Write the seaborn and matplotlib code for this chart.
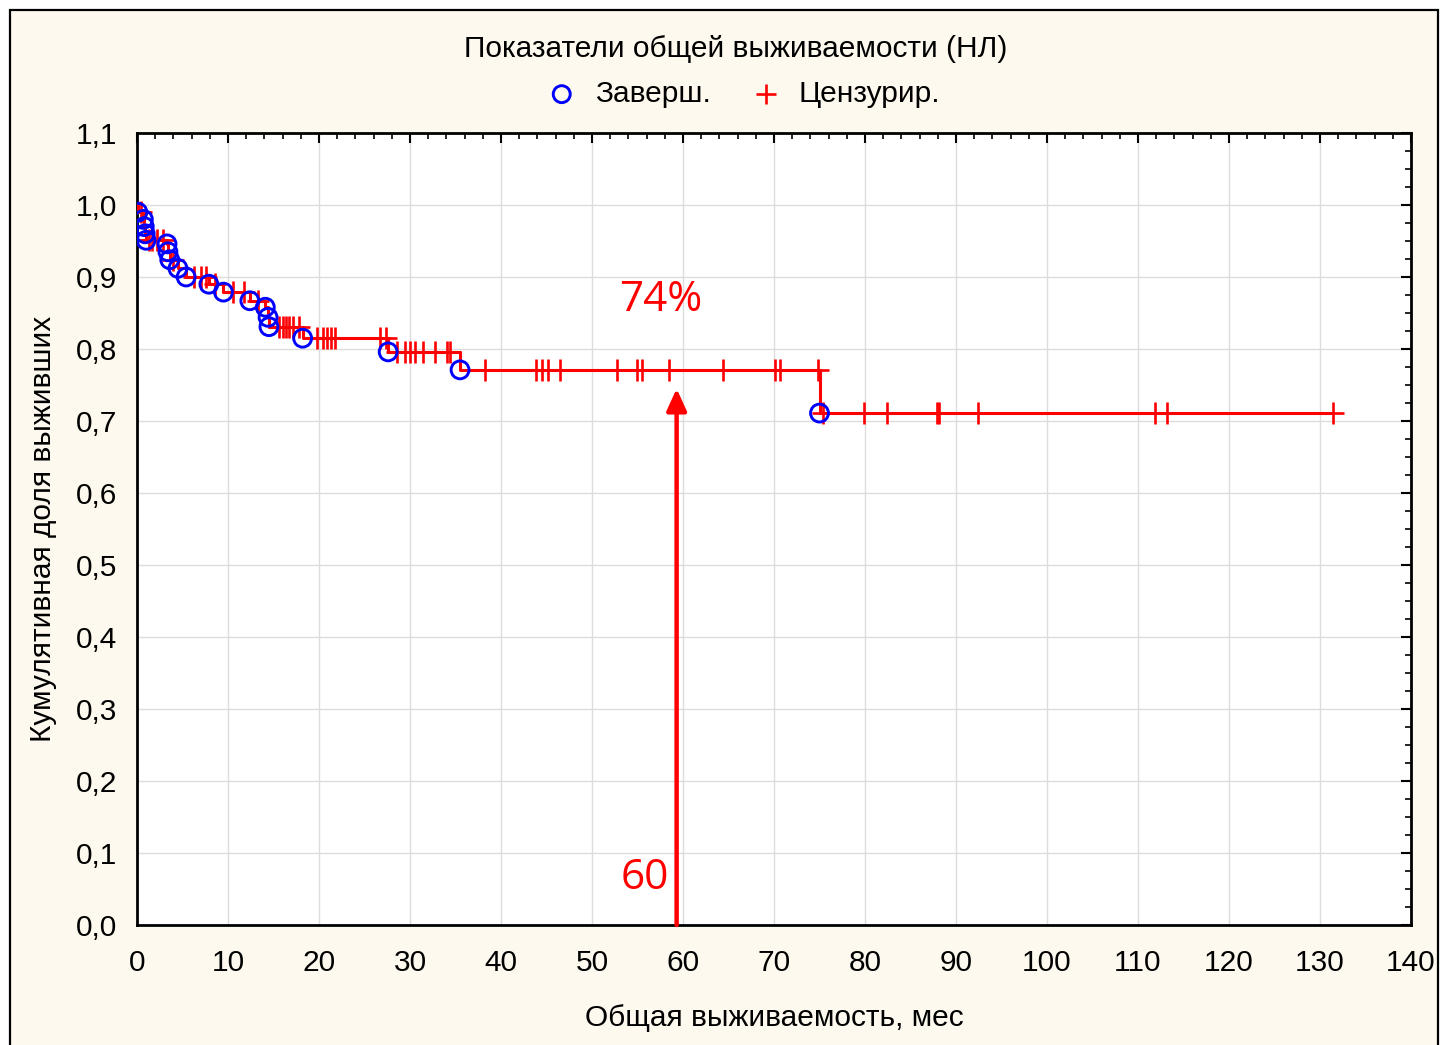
import numpy as np
import pandas as pd
import matplotlib
matplotlib.use("Agg")
import matplotlib.pyplot as plt
import seaborn as sns
from matplotlib.patches import Rectangle
from matplotlib.ticker import MultipleLocator

# Kaplan-Meier data: event times (months) and survival after each event
event_times = [0.1, 0.7, 0.8, 0.9, 1.0, 3.3, 3.4, 3.6, 4.5, 5.4, 7.9, 9.5,
               12.4, 14.1, 14.4, 14.5, 18.2, 27.6, 35.5, 75.0]
event_surv = [0.990, 0.980, 0.970, 0.960, 0.951, 0.946, 0.935, 0.924, 0.912,
              0.900, 0.890, 0.879, 0.867, 0.858, 0.844, 0.831, 0.815, 0.796,
              0.771, 0.711]

# Censored observation times (months)
censor_times = [0.4, 1.3, 1.7, 2.2, 2.9, 4.0, 6.3, 7.0, 7.6, 8.6, 10.5, 11.8,
                13.3, 15.6, 16.0, 16.4, 16.7, 17.1, 17.8, 19.8, 20.4, 20.9,
                21.3, 21.8, 26.7, 27.4, 28.6, 29.5, 30.0, 30.5, 31.4, 32.7,
                34.1, 34.4, 38.2, 43.9, 44.5, 45.2, 46.5, 52.7, 54.9, 55.5,
                58.5, 64.4, 70.1, 70.7, 74.8, 75.4, 79.9, 82.4, 87.9, 88.1,
                92.4, 111.9, 113.2, 131.4]

x_ticks = [0, 10, 20, 30, 40, 50, 60, 70, 80, 90, 100, 110, 120, 130, 140]
y_ticks = [0.0, 0.1, 0.2, 0.3, 0.4, 0.5, 0.6, 0.7, 0.8, 0.9, 1.0, 1.1]
y_tick_labels = ["0,0", "0,1", "0,2", "0,3", "0,4", "0,5", "0,6", "0,7",
                 "0,8", "0,9", "1,0", "1,1"]

title = "Показатели общей выживаемости (НЛ)"
x_label = "Общая выживаемость, мес"
y_label = "Кумулятивная доля выживших"
legend_labels = ["Заверш.", "Цензурир."]
marked_time = 60
marked_surv = 0.745
marked_text = "74%"


def surv_at(t):
    s = 1.0
    for et, es in zip(event_times, event_surv):
        if et <= t:
            s = es
    return s


steps = pd.DataFrame({
    "t": [0.0] + event_times + [censor_times[-1]],
    "s": [1.0] + event_surv + [event_surv[-1]],
})
events = pd.DataFrame({"t": event_times, "s": event_surv})
censored = pd.DataFrame({"t": censor_times,
                         "s": [surv_at(t) for t in censor_times]})

sns.set_theme(style="white")
plt.rcParams["font.family"] = ["Liberation Sans", "DejaVu Sans"]
plt.rcParams["text.color"] = "black"
plt.rcParams["axes.labelcolor"] = "black"

FS = 21.5

fig = plt.figure(figsize=(14.41, 10.45), dpi=100)
fig.patch.set_facecolor("white")
fig.add_artist(Rectangle((10 / 1441, -0.01), (1438 - 10) / 1441, 1 - 10 / 1045 + 0.01,
                         transform=fig.transFigure, facecolor="#fdf9ee",
                         edgecolor="black", linewidth=1.6, zorder=-10))

ax = fig.add_axes([137 / 1441, 1 - 925 / 1045, (1411 - 137) / 1441, (925 - 133) / 1045])
ax.set_facecolor("white")

red = "#ff0000"
blue = "#0000ff"

sns.lineplot(data=steps, x="t", y="s", drawstyle="steps-post", color=red,
             linewidth=2.2, sort=False, estimator=None, ax=ax, zorder=3)
sns.scatterplot(data=censored, x="t", y="s", marker="+", s=240, color=red,
                linewidth=1.9, ax=ax, zorder=4, label=legend_labels[1])
sns.scatterplot(data=events, x="t", y="s", marker="o", s=165,
                facecolor="none", edgecolor=blue, linewidth=2.1, ax=ax,
                zorder=5, label=legend_labels[0])

# Arrow marking the 60-month survival
ax.annotate("", xy=(marked_time - 0.7, marked_surv), xytext=(marked_time - 0.7, 0.0),
            arrowprops=dict(arrowstyle="-|>,head_length=1.1,head_width=0.5",
                            color=red, linewidth=3.2, shrinkA=0, shrinkB=0),
            zorder=6)
ax.text(57.6, 0.868, marked_text, color=red, fontsize=30.5, family="Open Sans",
        ha="center", va="center")
ax.text(55.8, 0.065, str(marked_time), color=red, fontsize=30.5, family="Open Sans",
        ha="center", va="center")

ax.set_xlim(0, 140)
ax.set_ylim(0, 1.1)
ax.set_xticks(x_ticks)
ax.set_yticks(y_ticks)
ax.set_yticklabels(y_tick_labels)
ax.xaxis.set_minor_locator(MultipleLocator(2))
ax.yaxis.set_minor_locator(MultipleLocator(0.025))
ax.tick_params(axis="both", which="both", direction="in", top=True, right=True,
               labelsize=FS, colors="black")
ax.tick_params(axis="x", which="major", pad=17)
ax.tick_params(axis="y", which="major", pad=14)
ax.tick_params(axis="both", which="major", length=7, width=1.5)
ax.tick_params(axis="both", which="minor", length=4, width=1.2)
ax.grid(True, which="major", color="#dcdcdc", linewidth=1.0)
ax.set_axisbelow(True)
for sp in ax.spines.values():
    sp.set_color("black")
    sp.set_linewidth(2.0)

ax.set_xlabel(x_label, fontsize=FS, labelpad=20)
ax.set_ylabel(y_label, fontsize=FS, labelpad=14)

fig.text(736 / 1441, 1 - 49 / 1045, title, ha="center", va="center", fontsize=FS)

handles, labels = ax.get_legend_handles_labels()
order = [labels.index(legend_labels[0]), labels.index(legend_labels[1])]
leg = fig.legend([handles[i] for i in order], [labels[i] for i in order],
                 loc="center", bbox_to_anchor=(742 / 1441, 1 - 94 / 1045), ncol=2,
                 frameon=False, fontsize=FS, handletextpad=0.5, columnspacing=1.25,
                 markerscale=0.95, handlelength=1.2)
if ax.get_legend():
    ax.get_legend().remove()

fig.savefig("out.png", dpi=100, facecolor=fig.get_facecolor())
